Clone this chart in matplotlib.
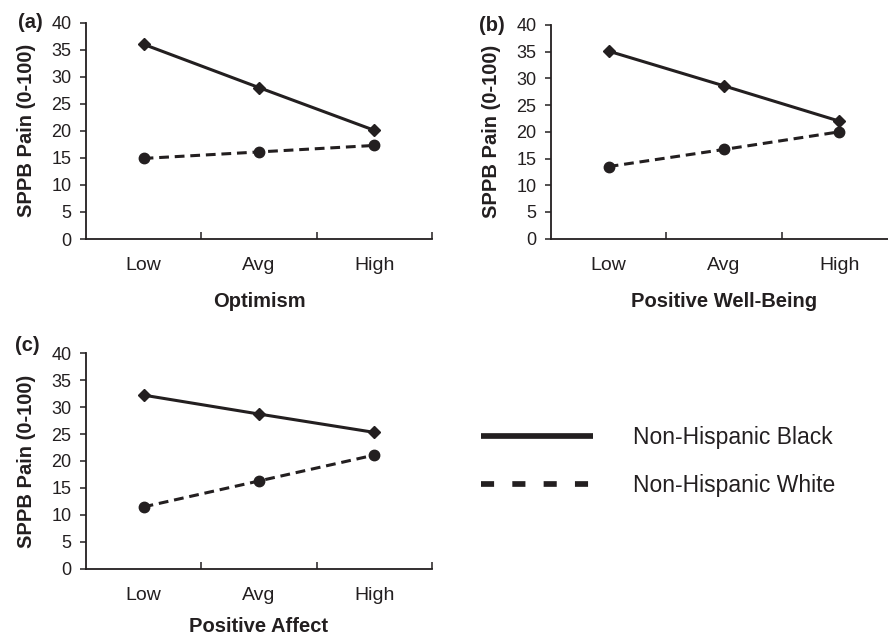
import numpy as np
import matplotlib
matplotlib.use('Agg')
import matplotlib.pyplot as plt
from matplotlib.lines import Line2D

plt.rcParams['font.family'] = ['Liberation Sans', 'DejaVu Sans']

# Datos
niveles = ['Low', 'Avg', 'High']
paneles = ['(a)', '(b)', '(c)']
etiquetas_x = ['Optimism', 'Positive Well-Being', 'Positive Affect']
negro = [[36.0, 28.0, 20.1],   # Non-Hispanic Black
         [35.1, 28.6, 22.0],
         [32.2, 28.7, 25.3]]
blanco = [[14.9, 16.1, 17.3],  # Non-Hispanic White
          [13.5, 16.7, 20.0],
          [11.5, 16.3, 21.1]]
yticks = np.arange(0, 41, 5)

tinta = '#231f20'
fig = plt.figure(figsize=(8.88, 6.37), dpi=100)

# posiciones de los ejes en fracción de figura [izq, abajo, ancho, alto]
cajas = [[0.0968, 0.6248, 0.3896, 0.3396],
         [0.6205, 0.6253, 0.3896, 0.3355],
         [0.0968, 0.1068, 0.3896, 0.3390]]
pos_letra = [(0.020, 0.964), (0.539, 0.960), (0.017, 0.458)]
pad_xlabel = [13, 13, 9]

x = np.arange(len(niveles))
for i in range(3):
    ax = fig.add_axes(cajas[i])
    ax.plot(x, negro[i], '-', color=tinta, lw=2.2, marker='D', ms=6.5,
            clip_on=False, zorder=3)
    ax.plot(x, blanco[i], color=tinta, lw=2.2, dashes=(3.2, 1.9),
            marker='o', ms=7.5, clip_on=False, zorder=3)
    ax.set_xlim(-0.5, 2.5)
    ax.set_ylim(0, 40)
    ax.set_yticks(yticks)
    ax.set_xticks([0.5, 1.5, 2.5])
    ax.set_xticklabels([])
    ax.set_xticks(x, minor=True)
    ax.set_xticklabels(niveles, minor=True)
    ax.tick_params(axis='x', which='major', direction='in', length=5,
                   width=1.1, color=tinta)
    ax.tick_params(axis='x', which='minor', length=0, pad=13,
                   labelsize=14, labelcolor=tinta)
    ax.tick_params(axis='y', direction='out', length=4.5, width=1.1,
                   color=tinta, pad=6, labelsize=13, labelcolor=tinta)
    for s in ['top', 'right']:
        ax.spines[s].set_visible(False)
    for s in ['left', 'bottom']:
        ax.spines[s].set_linewidth(1.3)
        ax.spines[s].set_color(tinta)
    ax.set_ylabel('SPPB Pain (0-100)', fontsize=14.5, fontweight='bold',
                  color=tinta, labelpad=11)
    ax.set_xlabel(etiquetas_x[i], fontsize=14.5, fontweight='bold',
                  color=tinta, labelpad=pad_xlabel[i])
    fig.text(pos_letra[i][0], pos_letra[i][1], paneles[i], fontsize=14.5,
             fontweight='bold', color=tinta, ha='left', va='center')

# Leyenda
h_negro = Line2D([], [], color=tinta, lw=4.1, solid_capstyle='butt')
h_blanco = Line2D([], [], color=tinta, lw=4.1, dashes=(2.3, 3.2),
                  dash_capstyle='butt')
fig.legend([h_negro, h_blanco], ['Non-Hispanic Black', 'Non-Hispanic White'],
           loc='center left', bbox_to_anchor=(0.5417, 0.2755), frameon=False,
           fontsize=16.5, handlelength=4.9, handletextpad=1.75,
           labelspacing=1.05, borderpad=0, borderaxespad=0, labelcolor=tinta)

fig.savefig('out.png', dpi=100)
